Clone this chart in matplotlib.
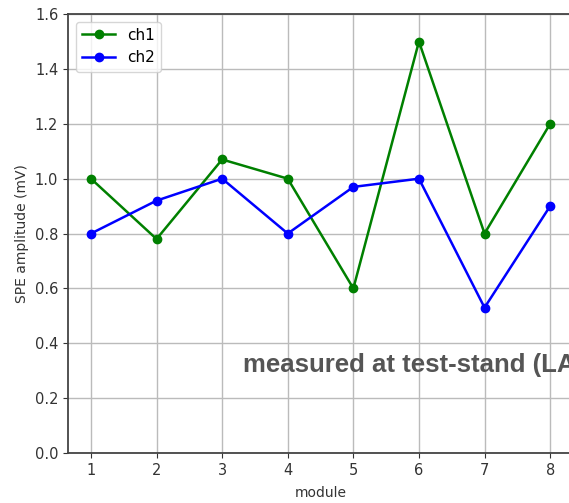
import matplotlib

matplotlib.use("Agg")
import matplotlib.pyplot as plt

modules = [1, 2, 3, 4, 5, 6, 7, 8]
ch1 = [1.0, 0.78, 1.07, 1.0, 0.6, 1.5, 0.8, 1.2]
ch2 = [0.8, 0.92, 1.0, 0.8, 0.97, 1.0, 0.53, 0.9]

fig = plt.figure(figsize=(5.69, 5.03), dpi=100)
ax = fig.add_axes([0.1195, 0.0994, 0.8877, 0.8726])

ax.plot(modules, ch1, "o-", color="green", label="ch1", markersize=6, linewidth=1.8)
ax.plot(modules, ch2, "o-", color="blue", label="ch2", markersize=6, linewidth=1.8)

ax.set_xlim(0.65, 8.35)
ax.set_ylim(0.0, 1.6)
ax.set_xticks(modules)
ax.grid(True, color="#bbbbbb", linewidth=1.0)
ax.tick_params(labelsize=10.5, colors="#333333")
ax.set_xlabel("module", fontsize=10, color="#333333", labelpad=6)
ax.set_ylabel("SPE amplitude (mV)", fontsize=10, color="#333333")
ax.legend(loc="upper left", fontsize=11, handlelength=2.2)
for s in ax.spines.values():
    s.set_color("#444444")
    s.set_linewidth(1.3)
ax.spines["right"].set_visible(False)

# overlay annotation, cut off by the figure edge as in the original
fig.text(0.427, 0.2604, "measured at test-stand (LAB)", fontsize=18.5,
         fontweight="bold", color="#555555", family="Liberation Sans",
         va="baseline")

fig.savefig("out.png", dpi=100)
